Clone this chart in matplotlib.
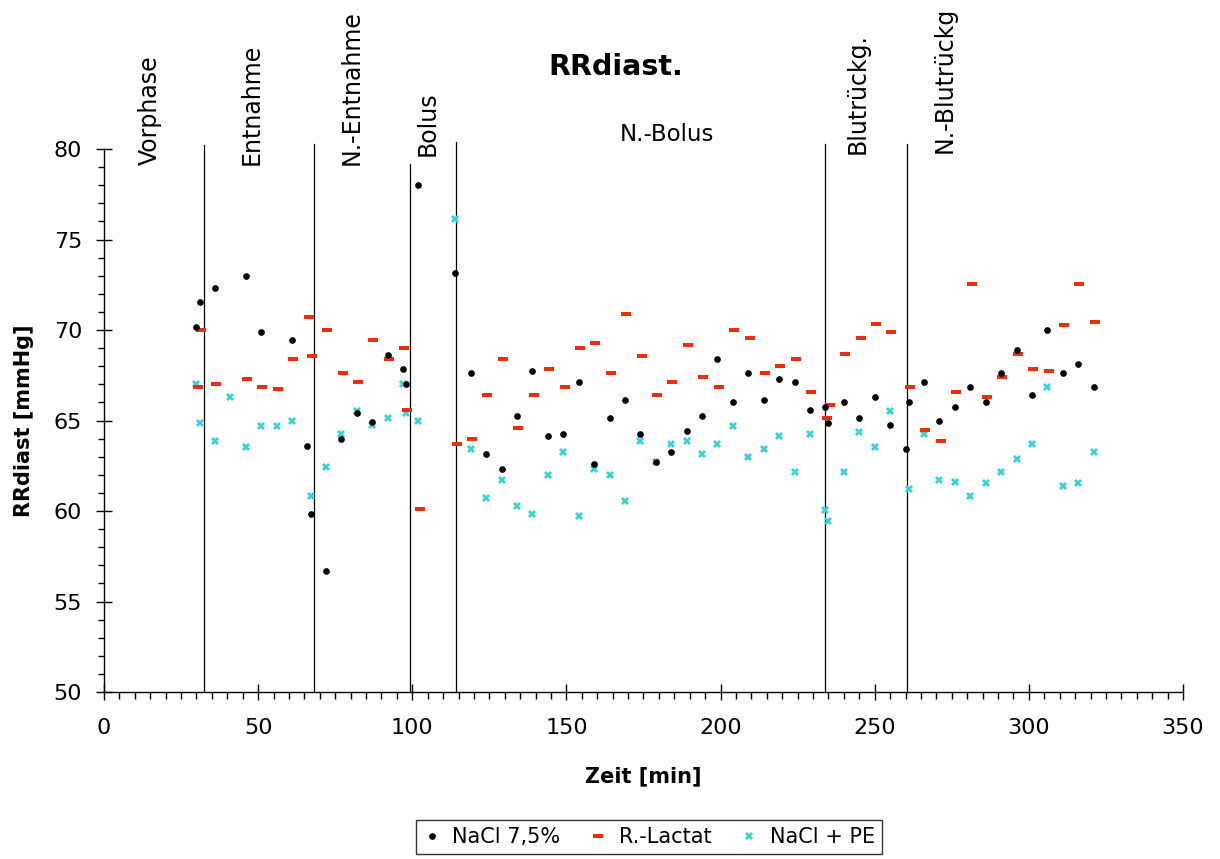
import numpy as np
import matplotlib
matplotlib.use("Agg")
import matplotlib.pyplot as plt
from matplotlib.ticker import MultipleLocator

nan = np.nan

# measurement times [min]
zeit = [30, 31, 36, 41, 46, 51, 56, 61, 66, 67, 72, 77, 82, 87, 92, 97, 98, 102,
        114, 119, 124, 129, 134, 139, 144, 149, 154, 159, 164, 169, 174, 179, 184,
        189, 194, 199, 204, 209, 214, 219, 224, 229, 234, 235, 240, 245, 250, 255,
        260, 261, 266, 271, 276, 281, 286, 291, 296, 301, 306, 311, 316, 321]

nacl = [70.15, 71.56, 72.3, nan, 73.0, 69.9, nan, 69.45, 63.6, 59.85, 56.7, 63.98,
        65.4, 64.9, 68.6, 67.87, 67.0, 78.0, 73.13, 67.6, 63.15, 62.3, 65.27, 67.72,
        64.14, 64.27, 67.13, 62.58, 65.14, 66.13, 64.27, 62.7, 63.28, 64.43, 65.27,
        68.42, 66.0, 67.6, 66.13, 67.3, 67.13, 65.57, 65.73, 64.85, 66.0, 65.14,
        66.3, 64.74, 63.45, 66.0, 67.13, 64.97, 65.73, 66.85, 66.0, 67.6, 68.88,
        66.43, 69.98, 67.6, 68.12, 66.84]

lactat = [66.85, 70.0, 67.0, nan, 67.3, 66.85, 66.74, 68.42, 70.74, 68.59, 70.0,
          67.6, 67.15, 69.45, 68.42, 69.0, 65.6, 60.13, 63.7, 63.98, 66.43, 68.42,
          64.57, 66.43, 67.87, 66.85, 69.0, 69.28, 67.6, 70.9, 68.58, 66.43, 67.13,
          69.15, 67.42, 66.84, 69.98, 69.56, 67.6, 68.0, 68.42, 66.56, 65.16, 65.86,
          68.67, 69.58, 70.35, 69.87, nan, 66.85, 64.45, 63.85, 66.56, 72.56, 66.3,
          67.4, 68.7, 67.87, 67.72, 70.28, 72.56, 70.45]

nacl_pe = [67.0, 64.85, 63.85, 66.3, 63.56, 64.72, 64.72, 64.97, nan, 60.83, 62.42,
           64.27, 65.55, 64.74, 65.14, 67.0, 65.44, 65.0, 76.15, 63.45, 60.7, 61.7,
           60.3, 59.86, 61.99, 63.28, 59.71, 62.3, 61.99, 60.55, 63.85, 62.71, 63.7,
           63.85, 63.15, 63.7, 64.72, 63.0, 63.43, 64.14, 62.13, 64.28, 60.03, 59.44,
           62.13, 64.34, 63.56, 65.55, nan, 61.24, 64.28, 61.72, 61.59, 60.85, 61.57,
           62.13, 62.86, 63.69, 66.84, 61.4, 61.57, 63.26]

# phase boundaries and labels
grenzen = [32.4, 68.1, 99.3, 114.2, 233.9, 260.5]
grenzen_oben = [80.2, 80.3, 79.2, 80.4, 80.3, 80.3]
phasen = ["Vorphase", "Entnahme", "N.-Entnahme", "Bolus", "Blutrückg.", "N.-Blutrückg"]
phasen_x = [14.9, 48.0, 80.4, 105.1, 244.6, 272.8]
phasen_y = [79.1, 79.1, 79.1, 79.6, 79.7, 79.8]

fig = plt.figure(figsize=(12.2, 8.59), dpi=100)
ax = fig.add_axes([0.0852, 0.1944, 0.8845, 0.6321])

rect = [(-1, -0.45), (1, -0.45), (1, 0.45), (-1, 0.45)]
zeit = np.array(zeit, dtype=float)
ax.plot(zeit, nacl, ls="none", marker="o", ms=3.8, color="black", label="NaCl 7,5%", zorder=4)
ax.plot(zeit + 0.4, lactat, ls="none", marker=rect, ms=6.5, color="#e8300f",
        markeredgewidth=0, label="R.-Lactat", zorder=3)
ax.plot(zeit, nacl_pe, ls="none", marker="X", ms=5.5, color="#3cd0d6",
        markeredgewidth=0, label="NaCl + PE", zorder=2)

for gx, gy in zip(grenzen, grenzen_oben):
    ax.plot([gx, gx], [50, gy], color="black", lw=0.9, clip_on=False, zorder=1)

for name, px, py in zip(phasen, phasen_x, phasen_y):
    ax.text(px, py, name, rotation=90, ha="center", va="bottom", fontsize=17, clip_on=False)
ax.text(182.6, 80.8, "N.-Bolus", ha="center", va="center", fontsize=16.5, clip_on=False)

ax.set_xlim(0, 350)
ax.set_ylim(50, 80)
ax.xaxis.set_major_locator(MultipleLocator(50))
ax.xaxis.set_minor_locator(MultipleLocator(5))
ax.yaxis.set_major_locator(MultipleLocator(5))
ax.yaxis.set_minor_locator(MultipleLocator(1))

for s in ["top", "right"]:
    ax.spines[s].set_visible(False)
ax.spines["left"].set_linewidth(1)
ax.spines["bottom"].set_linewidth(1)

ax.tick_params(axis="x", which="major", direction="inout", length=11.5, width=1,
               labelsize=16, pad=13)
ax.tick_params(axis="x", which="minor", direction="out", length=5, width=1)
ax.tick_params(axis="y", which="major", direction="inout", length=11.5, width=1,
               labelsize=16, pad=10)
ax.tick_params(axis="y", which="minor", direction="out", length=4.5, width=1)

ax.set_xlabel("Zeit [min]", fontsize=15, fontweight="bold", labelpad=20)
ax.set_ylabel("RRdiast [mmHg]", fontsize=15, fontweight="bold", labelpad=14)

fig.text(0.505, 0.922, "RRdiast.", ha="center", va="center", fontsize=20.5, fontweight="bold")

leg = fig.legend(loc="center", bbox_to_anchor=(0.532, 0.0256), ncol=3, fontsize=15,
                 frameon=True, fancybox=False, edgecolor="black", handlelength=0.8,
                 handletextpad=0.6, columnspacing=1.4, borderpad=0.35, markerscale=1.0)
leg.get_frame().set_linewidth(1)

fig.savefig("out.png", dpi=100)
